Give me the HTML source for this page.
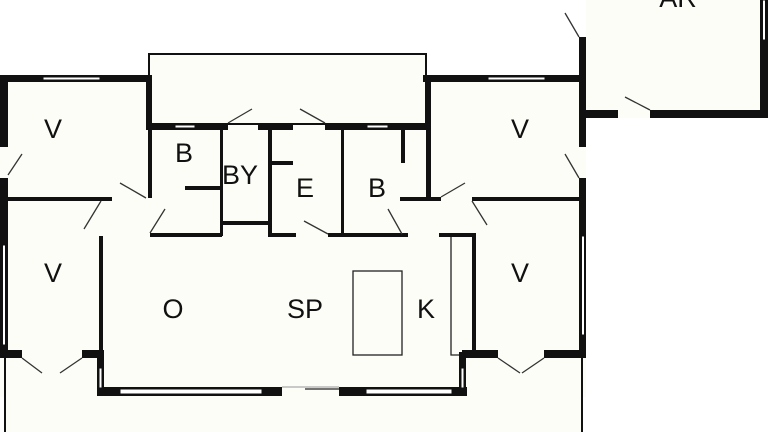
<!DOCTYPE html>
<html><head><meta charset="utf-8"><style>
html,body{margin:0;padding:0;background:#fff;}
svg{display:block;}
text{font-family:"Liberation Sans",sans-serif;font-size:27px;fill:#111;text-anchor:middle;}
</style></head><body>
<svg width="768" height="432" viewBox="0 0 768 432" xmlns="http://www.w3.org/2000/svg">
<g fill="#fdfdf8">
<rect x="0" y="75" width="586" height="322"/>
<rect x="586" y="0" width="182" height="118"/>
<rect x="149" y="54" width="277" height="75"/>
<rect x="5" y="358" width="577" height="74"/>
</g>
<g fill="none" stroke="#111" stroke-width="2">
<rect x="149" y="54" width="277" height="70"/>
<line x1="5" y1="358" x2="5" y2="432"/>
<line x1="582" y1="358" x2="582" y2="432"/>
</g>
<g fill="none" stroke="#222" stroke-width="1.3">
<rect x="353" y="271" width="49" height="84"/>
<polyline points="451,237 451,355 472,355"/>
<line x1="305" y1="389" x2="340" y2="389"/>
<line x1="282" y1="387" x2="339" y2="387" stroke="#aaa"/>
</g>
<g fill="#111">
<rect x="0" y="75" width="8" height="72"/>
<rect x="0" y="178" width="8" height="180"/>
<rect x="0" y="75" width="152" height="7"/>
<rect x="146" y="75" width="6" height="55"/>
<rect x="146" y="123" width="82" height="7"/>
<rect x="258" y="123" width="35" height="7"/>
<rect x="325" y="123" width="105" height="7"/>
<rect x="148" y="130" width="4" height="68"/>
<rect x="220" y="130" width="3" height="106"/>
<rect x="185" y="186" width="35" height="4"/>
<rect x="223" y="221" width="45" height="4"/>
<rect x="268" y="130" width="4" height="106"/>
<rect x="272" y="161" width="21" height="4"/>
<rect x="150" y="233" width="72" height="4"/>
<rect x="268" y="233" width="28" height="4"/>
<rect x="328" y="233" width="80" height="4"/>
<rect x="341" y="130" width="3" height="104"/>
<rect x="401" y="130" width="4" height="33"/>
<rect x="426" y="75" width="5" height="124"/>
<rect x="423" y="75" width="162" height="7"/>
<rect x="400" y="197" width="41" height="4"/>
<rect x="472" y="197" width="108" height="4"/>
<rect x="439" y="233" width="37" height="4"/>
<rect x="472" y="233" width="4" height="122"/>
<rect x="8" y="197" width="104" height="4"/>
<rect x="99" y="236" width="4" height="122"/>
<rect x="579" y="37" width="7" height="110"/>
<rect x="579" y="178" width="7" height="180"/>
<rect x="586" y="110" width="32" height="8"/>
<rect x="650" y="110" width="118" height="8"/>
<rect x="760" y="0" width="8" height="118"/>
<rect x="0" y="350" width="22" height="8"/>
<rect x="82" y="350" width="22" height="8"/>
<rect x="97" y="352" width="7" height="44"/>
<rect x="97" y="387" width="185" height="9"/>
<rect x="339" y="387" width="128" height="9"/>
<rect x="459" y="352" width="7" height="44"/>
<rect x="462" y="350" width="36" height="8"/>
<rect x="544" y="350" width="42" height="8"/>
</g>
<!-- windows -->
<g fill="#fff" stroke="#111" stroke-width="1">
<rect x="43" y="77" width="57" height="3"/>
<rect x="488" y="77" width="57" height="3"/>
<rect x="175" y="125" width="20" height="3"/>
<rect x="367" y="125" width="21" height="3"/>
<rect x="2.5" y="245" width="3" height="100"/>
<rect x="581.5" y="236" width="3" height="99"/>
<rect x="762.5" y="0" width="3" height="40"/>
<rect x="120" y="389" width="142" height="5"/>
<rect x="366" y="389" width="86" height="5"/>
<rect x="99" y="368" width="3" height="20"/>
<rect x="461" y="368" width="3" height="20"/>
</g>
<g stroke="#333" stroke-width="1.3">
<line x1="228" y1="123" x2="252" y2="109"/>
<line x1="325" y1="123" x2="300" y2="109"/>
<line x1="8" y1="175" x2="22" y2="154"/>
<line x1="146" y1="198" x2="120" y2="183"/>
<line x1="101" y1="201" x2="84" y2="229"/>
<line x1="150" y1="233" x2="165" y2="209"/>
<line x1="328" y1="234" x2="304" y2="221"/>
<line x1="402" y1="234" x2="388" y2="209"/>
<line x1="441" y1="197" x2="465" y2="183"/>
<line x1="472" y1="201" x2="487" y2="225"/>
<line x1="579" y1="178" x2="565" y2="154"/>
<line x1="579" y1="37" x2="565" y2="13"/>
<line x1="650" y1="110" x2="625" y2="97"/>
<line x1="22" y1="358" x2="42" y2="373"/>
<line x1="82" y1="358" x2="60" y2="373"/>
<line x1="498" y1="358" x2="520" y2="373"/>
<line x1="544" y1="358" x2="522" y2="373"/>
</g>
<text x="53" y="138">V</text>
<text x="184" y="162">B</text>
<text x="240" y="184">BY</text>
<text x="305" y="197">E</text>
<text x="377" y="197">B</text>
<text x="520" y="138">V</text>
<text x="678" y="7">AR</text>
<text x="53" y="282">V</text>
<text x="173" y="318">O</text>
<text x="305" y="318">SP</text>
<text x="426" y="318">K</text>
<text x="520" y="282">V</text>
</svg>
</body></html>
